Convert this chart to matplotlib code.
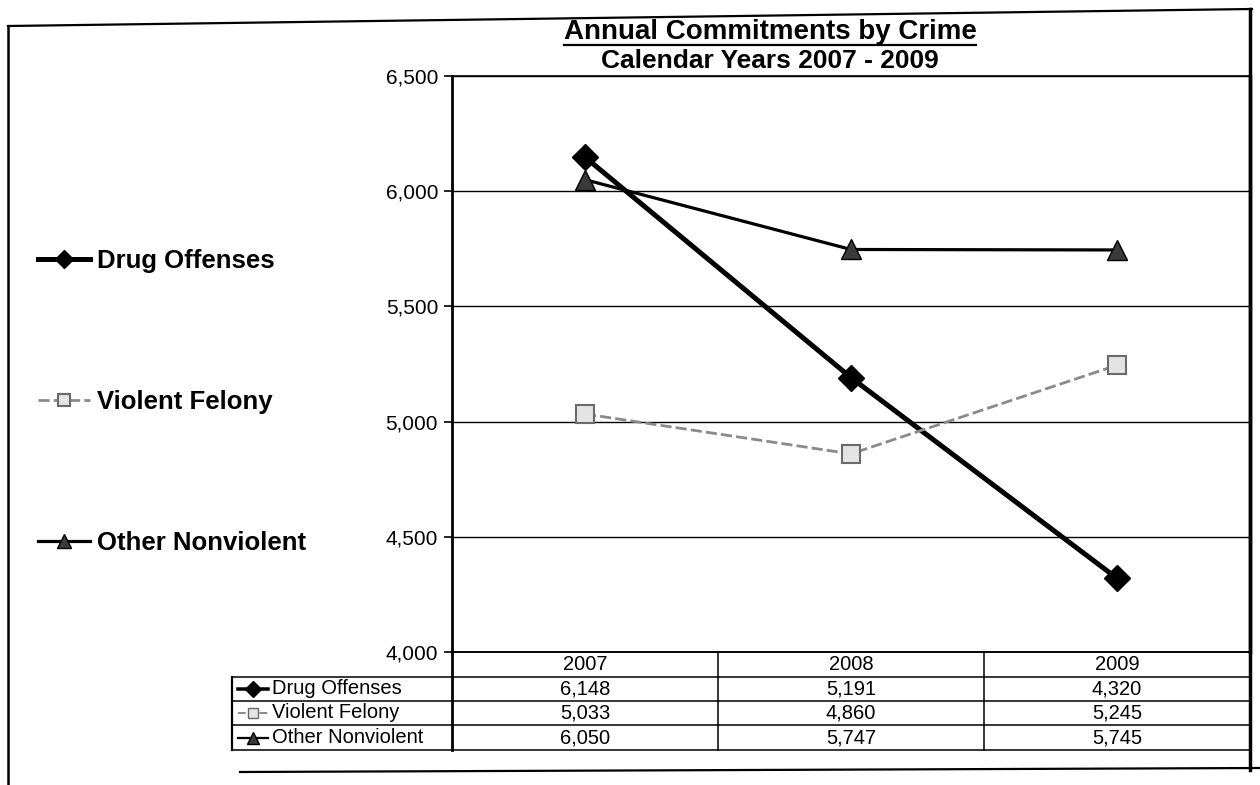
import numpy as np
import matplotlib
matplotlib.use('Agg')
from matplotlib import pyplot as plt
from matplotlib.lines import Line2D

plt.rcParams['font.family'] = ['Liberation Sans', 'DejaVu Sans']

# Data
years = ['2007', '2008', '2009']
drug_offenses = [6148, 5191, 4320]
violent_felony = [5033, 4860, 5245]
other_nonviolent = [6050, 5747, 5745]
series_names = ['Drug Offenses', 'Violent Felony', 'Other Nonviolent']
y_ticks = [4000, 4500, 5000, 5500, 6000, 6500]

W, H = 1260, 785
fig = plt.figure(figsize=(W / 100, H / 100), dpi=100)

# background axes in pixel units for frame, titles and the data table
bg = fig.add_axes([0, 0, 1, 1])
bg.set_xlim(0, W)
bg.set_ylim(H, 0)
bg.axis('off')

# plot area (pixels)
px0, px1, py0, py1 = 452, 1250, 76, 652
ax = fig.add_axes([px0 / W, 1 - py1 / H, (px1 - px0) / W, (py1 - py0) / H])
ax.patch.set_alpha(0)

styles = [
    dict(color='black', lw=3.6, marker='D', ms=13, mfc='black', mec='black'),
    dict(color='#8a8a8a', lw=2.0, ls=(0, (4, 1.5)), marker='s', ms=13, mfc='#e4e4e4', mec='#6a6a6a', mew=1.5),
    dict(color='black', lw=2.3, marker='^', ms=15, mfc='#3a3a3a', mec='black'),
]
series = [drug_offenses, violent_felony, other_nonviolent]
x = np.arange(len(years))
handles = []
for vals, st in zip(series, styles):
    h, = ax.plot(x, vals, zorder=3, **st)
    handles.append(h)

ax.set_xlim(-0.5, len(years) - 0.5)
ax.set_ylim(4000, 6500)
ax.set_yticks(y_ticks)
ax.set_yticklabels([f'{v:,}' for v in y_ticks], fontsize=15)
ax.set_xticks([])
ax.grid(axis='y', color='black', lw=1.0, zorder=1)
ax.tick_params(axis='y', direction='out', length=6, width=1.2, pad=4)
for side in ['left', 'right', 'top', 'bottom']:
    ax.spines[side].set_color('black')
ax.spines['left'].set_linewidth(2.0)
ax.spines['top'].set_linewidth(1.2)
ax.spines['bottom'].set_linewidth(1.2)
ax.spines['right'].set_linewidth(2.5)

# title
bg.text(770, 32, 'Annual Commitments by Crime', ha='center', va='center',
        fontsize=20, fontweight='bold')
bg.plot([564, 976], [45, 45], color='black', lw=1.6)
bg.text(770, 61, 'Calendar Years 2007 - 2009', ha='center', va='center',
        fontsize=19, fontweight='bold')

# outer frame
bg.plot([8, 1252], [26, 9], color='black', lw=1.6)
bg.plot([8, 8], [26, 785], color='black', lw=1.8)
bg.plot([1250, 1250], [9, 770], color='black', lw=2.5)
bg.plot([240, 1260], [772, 768], color='black', lw=1.6)

# legend on the left
fig.legend(handles, series_names, loc='center left', bbox_to_anchor=(0.012, 1 - 402 / H),
           frameon=False, labelspacing=4.55, handlelength=2.0, handletextpad=0.3,
           prop={'weight': 'bold', 'size': 18.5}, markerscale=0.7)

# data table under the plot
col_edges = [452, 718, 984, 1250]
row_edges = [652, 677, 701, 725, 750]
label_left = 232
for yy in row_edges[1:]:
    bg.plot([label_left, col_edges[-1]], [yy, yy], color='black', lw=1.1)
bg.plot([col_edges[0], col_edges[-1]], [row_edges[0], row_edges[0]], color='black', lw=1.1)
for xx in col_edges[1:-1]:
    bg.plot([xx, xx], [row_edges[0], row_edges[-1]], color='black', lw=1.1)
bg.plot([col_edges[0], col_edges[0]], [row_edges[0], row_edges[-1]], color='black', lw=2.0)
bg.plot([label_left, label_left], [row_edges[1], row_edges[-1]], color='black', lw=1.6)

for j, yr in enumerate(years):
    cx = (col_edges[j] + col_edges[j + 1]) / 2
    bg.text(cx, (row_edges[0] + row_edges[1]) / 2, yr, ha='center', va='center', fontsize=14.5)
    for i, vals in enumerate(series):
        cy = (row_edges[i + 1] + row_edges[i + 2]) / 2
        bg.text(cx, cy, f'{vals[j]:,}', ha='center', va='center', fontsize=14.5)

for i, (name, st) in enumerate(zip(series_names, styles)):
    cy = (row_edges[i + 1] + row_edges[i + 2]) / 2
    key = Line2D([238, 268], [cy, cy], color=st['color'], lw=st['lw'] * 0.7,
                 ls=st.get('ls', '-'))
    bg.add_line(key)
    bg.plot([253], [cy], marker=st['marker'], ms=st['ms'] * 0.6, mfc=st['mfc'],
            mec=st['mec'], ls='none')
    bg.text(272, cy, name, ha='left', va='center', fontsize=14.5)

fig.savefig('out.png', dpi=100)
